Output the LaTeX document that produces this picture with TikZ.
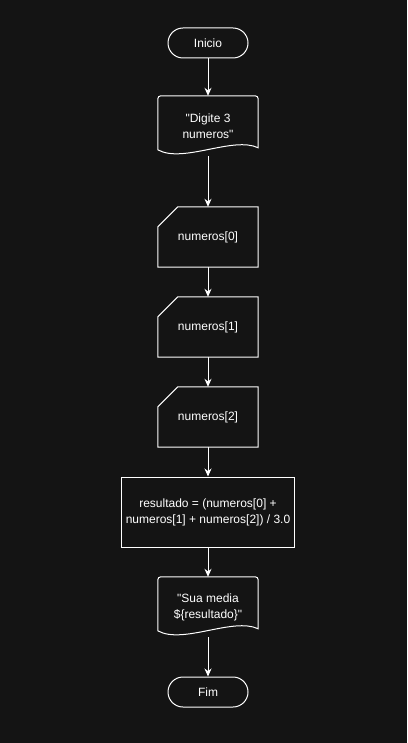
\documentclass[tikz,border=0pt]{standalone}
\usepackage{fontspec}
\setmainfont{Liberation Sans}[Ligatures=TeXOff]
\usetikzlibrary{arrows.meta}
\definecolor{fundo}{HTML}{141414}
\begin{document}
\begin{tikzpicture}[x=1pt,y=-1pt,>={Stealth[length=8pt,width=7pt]},
  every node/.style={text=white,font=\fontsize{12}{16}\selectfont,align=center},
  linha/.style={draw=white,line width=1pt},
  term/.style={linha,rounded corners=15pt,minimum width=80pt,minimum height=30pt},
  caixa/.style={minimum width=100pt,minimum height=60pt}]
\fill [fundo] (0,0) rectangle (407,743);
\node[term] (inicio) at (208,43) {Inicio};
\node[caixa] (msg1) at (208,126) {"Digite 3\\numeros"};
\node[caixa] (num0) at (208,237) {numeros[0]};
\node[caixa] (num1) at (208,327) {numeros[1]};
\node[caixa] (num2) at (208,417) {numeros[2]};
\node[linha,minimum width=173pt,minimum height=70pt] (calc) at (208,512)
  {resultado = (numeros[0] +\\numeros[1] + numeros[2]) / 3.0};
\node[caixa] (msg2) at (208,607) {"Sua media\\\$\{resultado\}"};
\node[term] (fim) at (208,692) {Fim};
% entradas
\foreach \n in {num0,num1,num2}
  \draw[linha] ([yshift=-20pt]\n.north west) -- ([xshift=20pt]\n.north west) -- (\n.north east) -- (\n.south east) -- (\n.south west) -- cycle;
% documentos
\foreach \n in {msg1,msg2}
  \draw[linha] ([yshift=-54pt]\n.north west) [rounded corners=3pt] -- (\n.north west) -- (\n.north east) [sharp corners] -- ([yshift=-52pt]\n.north east)
    .. controls ([xshift=-25pt,yshift=-40pt]\n.north east) and ([xshift=25pt,yshift=-68pt]\n.north west) .. ([yshift=-54pt]\n.north west) -- cycle;
% setas
\draw[linha,->] (inicio) -- (msg1);
\draw[linha,->] (msg1.south) -- (num0.north);
\draw[linha,->] (num0) -- (num1);
\draw[linha,->] (num1) -- (num2);
\draw[linha,->] (num2) -- (calc);
\draw[linha,->] (calc) -- (msg2);
\draw[linha,->] (msg2.south) -- (fim.north);
\end{tikzpicture}
\end{document}
